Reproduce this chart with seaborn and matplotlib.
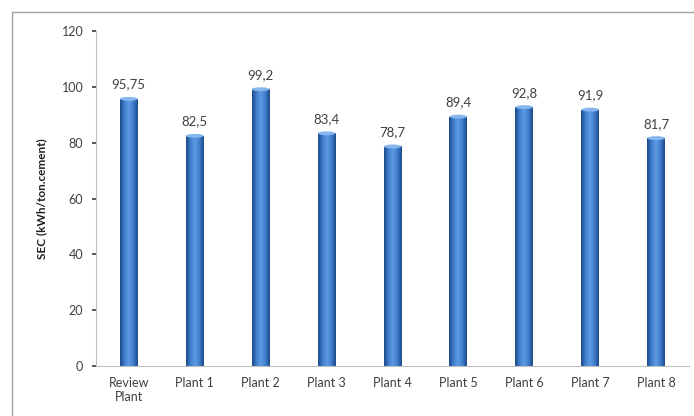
import numpy as np
import pandas as pd
import seaborn as sns
import matplotlib.pyplot as plt
from matplotlib.patches import Rectangle, Ellipse
from matplotlib.colors import LinearSegmentedColormap

# data
plants = ["Review\nPlant", "Plant 1", "Plant 2", "Plant 3", "Plant 4",
          "Plant 5", "Plant 6", "Plant 7", "Plant 8"]
sec_values = [95.75, 82.5, 99.2, 83.4, 78.7, 89.4, 92.8, 91.9, 81.7]
value_labels = ["95,75", "82,5", "99,2", "83,4", "78,7", "89,4", "92,8", "91,9", "81,7"]
y_ticks = [0, 20, 40, 60, 80, 100, 120]

sns.set_theme(style="white")
plt.rcParams['font.family'] = ['Lato', 'DejaVu Sans']

df = pd.DataFrame({"plant": plants, "sec": sec_values})

fig = plt.figure(figsize=(6.94, 4.16), dpi=100)
ax = fig.add_axes([0.138, 0.12, 0.855, 0.805])

sns.barplot(data=df, x="plant", y="sec", color="#3b78c6", width=0.27,
            saturation=1, ax=ax)

# cylinder-like shading: horizontal gradient clipped to each bar
cyl = LinearSegmentedColormap.from_list(
    "cyl", ["#1d4a86", "#3f7fcf", "#5f9ae0", "#3f7fcf", "#1d4a86"])
grad = np.linspace(0, 1, 64).reshape(1, -1)
for bar in ax.patches:
    x0, w, h = bar.get_x(), bar.get_width(), bar.get_height()
    img = ax.imshow(grad, cmap=cyl, aspect="auto",
                    extent=(x0, x0 + w, 0, h), zorder=bar.get_zorder() + 0.1)
    img.set_clip_path(bar)
    ax.add_patch(Ellipse((x0 + w / 2, h), w, 1.4, color="#86b6ee",
                         zorder=bar.get_zorder() + 0.2, lw=0))

for bar, lab in zip(ax.patches[:len(value_labels)], value_labels):
    ax.text(bar.get_x() + bar.get_width() / 2, bar.get_height() + 3, lab,
            ha="center", va="bottom", fontsize=9.5, color="#404040")

ax.set_xlim(-0.5, len(plants) - 0.5)
ax.set_ylim(0, 120)
ax.set_yticks(y_ticks)
ax.set_xlabel("")
ax.set_ylabel("SEC (kWh/ton.cement)", fontsize=8.5, fontweight="bold",
              color="#202020", labelpad=10)
ax.tick_params(axis="y", labelsize=9, colors="#404040", length=3,
               left=True, pad=6)
ax.tick_params(axis="x", labelsize=9, colors="#404040", length=0, pad=8)
for side in ["top", "right"]:
    ax.spines[side].set_visible(False)
for side in ["left", "bottom"]:
    ax.spines[side].set_color("#bfbfbf")
    ax.spines[side].set_linewidth(0.8)

# outer chart frame
fig.add_artist(Rectangle((12 / 694, -0.01), 1, 1 - 12 / 416 + 0.01,
                         transform=fig.transFigure, fill=False,
                         edgecolor="#a0a0a0", lw=1))

fig.savefig("out.png", dpi=100)
